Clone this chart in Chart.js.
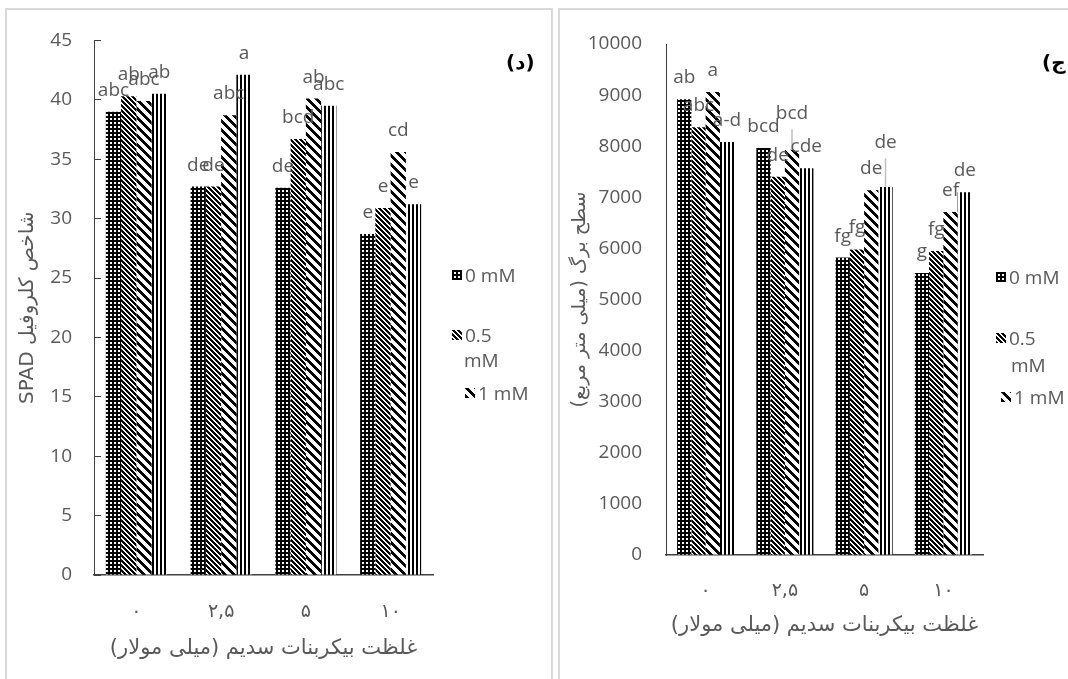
<!DOCTYPE html>
<html>
<head>
<meta charset="utf-8">
<script src="https://cdn.jsdelivr.net/npm/chart.js@4.4.0/dist/chart.umd.min.js"></script>
<style>
  body { margin: 0; width: 1068px; height: 679px; overflow: hidden; background: #fff; position: relative; }
  .panel { position: absolute; border: 2px solid #d9d9d9; box-sizing: border-box; }
  #boxL { left: 5px; top: 8px; width: 548px; height: 700px; }
  #boxR { left: 558px; top: 8px; width: 530px; height: 700px; }
  canvas.chart { position: absolute; top: 0; }
  .leg { position: absolute; font: 19px "Open Sans"; color: #595959; white-space: nowrap; line-height: 24px; }
  .leg canvas { display: inline-block; vertical-align: middle; margin-right: 3px; margin-top: -3px; }
  .tag { position: absolute; font: bold 20px "DejaVu Sans"; color: #000; white-space: nowrap; }
</style>
</head>
<body>
<div class="panel" id="boxL"></div>
<div class="panel" id="boxR"></div>
<canvas class="chart" id="spadChart" width="550" height="679" style="left:0"></canvas>
<canvas class="chart" id="areaChart" width="508" height="679" style="left:560px"></canvas>

<div class="tag" style="left:506px;top:50px">(د)</div>
<div class="tag" style="left:1042px;top:50px">(ج</div>

<div class="leg" style="left:452px;top:263px"><canvas class="sw" data-k="0" width="10" height="10"></canvas>0 mM</div>
<div class="leg" style="left:452px;top:323px"><canvas class="sw" data-k="1" width="10" height="10"></canvas>0.5</div>
<div class="leg" style="left:464px;top:348px">mM</div>
<div class="leg" style="left:465px;top:381px"><canvas class="sw" data-k="2" width="10" height="10"></canvas>1 mM</div>

<div class="leg" style="left:996px;top:265px"><canvas class="sw" data-k="0" width="10" height="10"></canvas>0 mM</div>
<div class="leg" style="left:996px;top:326px"><canvas class="sw" data-k="1" width="10" height="10"></canvas>0.5</div>
<div class="leg" style="left:1011px;top:353px">mM</div>
<div class="leg" style="left:1001px;top:385px"><canvas class="sw" data-k="2" width="10" height="10"></canvas>1 mM</div>

<script>
// categories: sodium bicarbonate concentration (mM)
const categories = ['۰', '۲,۵', '۵', '۱۰'];
const seriesNames = ['0 mM', '0.5 mM', '1 mM', '1.5 mM'];

// SPAD chlorophyll index
const spad0 = [39.0, 32.7, 32.6, 28.7];
const spad05 = [40.3, 32.7, 36.7, 30.9];
const spad1 = [39.9, 38.7, 40.1, 35.6];
const spad15 = [40.5, 42.1, 39.5, 31.2];
const spadLetters0 = ['abc', 'de', 'de', 'e'];
const spadLetters05 = ['ab', 'de', 'bcd', 'e'];
const spadLetters1 = ['abc', 'abc', 'ab', 'cd'];
const spadLetters15 = ['ab', 'a', 'abc', 'e'];

// leaf area (mm2)
const area0 = [8920, 7965, 5820, 5520];
const area05 = [8370, 7400, 5980, 5950];
const area1 = [9060, 7930, 7140, 6710];
const area15 = [8080, 7570, 7200, 7100];
const areaErr1 = [0, 400, 0, 0];
const areaErr15 = [0, 0, 560, 0];
const areaLetters0 = ['ab', 'bcd', 'fg', 'g'];
const areaLetters05 = ['abc', 'de', 'fg', 'fg'];
const areaLetters1 = ['a', 'bcd', 'de', 'ef'];
const areaLetters15 = ['a-d', 'cde', 'de', 'de'];

const grey = '#595959';

// black & white fill patterns like the excel ones
function makePattern(kind) {
  const size = { grid: 4, fine: 5, wide: 9, vert: 4 }[kind];
  const tile = document.createElement('canvas');
  tile.width = size;
  tile.height = size;
  const c = tile.getContext('2d');
  c.fillStyle = '#fff';
  c.fillRect(0, 0, size, size);
  c.fillStyle = '#000';
  for (let y = 0; y < size; y++) {
    for (let x = 0; x < size; x++) {
      let on;
      if (kind === 'grid') on = x < 2 || y < 2;
      else if (kind === 'vert') on = x < 2;
      else if (kind === 'fine') on = ((x - y + size) % size) < 3;
      else on = ((x - y + size) % size) < 4;
      if (on) c.fillRect(x, y, 1, 1);
    }
  }
  return c.createPattern(tile, 'repeat');
}
const patterns = [makePattern('grid'), makePattern('fine'), makePattern('wide'), makePattern('vert')];

// legend swatches
document.querySelectorAll('canvas.sw').forEach(cv => {
  const c = cv.getContext('2d');
  c.fillStyle = patterns[+cv.dataset.k];
  c.fillRect(0, 0, cv.width, cv.height);
});

// letters above the bars (+ the few error bars)
const letterPlugin = {
  id: 'letters',
  afterDatasetsDraw(chart) {
    const ctx = chart.ctx;
    const yScale = chart.scales.y;
    ctx.save();
    ctx.font = '19px "Open Sans"';
    ctx.fillStyle = grey;
    ctx.textAlign = 'center';
    ctx.textBaseline = 'alphabetic';
    chart.data.datasets.forEach((ds, i) => {
      chart.getDatasetMeta(i).data.forEach((bar, j) => {
        let top = bar.y;
        const err = ds.errors ? ds.errors[j] : 0;
        if (err) {
          const yErr = yScale.getPixelForValue(ds.data[j] + err);
          ctx.save();
          ctx.strokeStyle = '#bfbfbf';
          ctx.lineWidth = 1.5;
          ctx.beginPath();
          ctx.moveTo(bar.x, bar.y);
          ctx.lineTo(bar.x, yErr);
          ctx.stroke();
          ctx.restore();
          top = yErr + 6;
        }
        ctx.fillText(ds.letters[j], bar.x, top - 16);
      });
    });
    ctx.restore();
  }
};

function buildDatasets(values, letters, errors) {
  return values.map((v, i) => ({
    label: seriesNames[i],
    data: v,
    letters: letters[i],
    errors: errors ? errors[i] : null,
    backgroundColor: patterns[i],
    borderWidth: 0,
    categoryPercentage: 0.72,
    barPercentage: 1
  }));
}

function makeChart(id, cfg) {
  return new Chart(document.getElementById(id), {
    type: 'bar',
    data: { labels: categories, datasets: cfg.datasets },
    plugins: [letterPlugin],
    options: {
      responsive: false,
      animation: false,
      devicePixelRatio: 1,
      layout: { padding: cfg.padding },
      plugins: { legend: { display: false }, tooltip: { enabled: false } },
      scales: {
        x: {
          grid: { display: false },
          border: { color: '#404040', width: 1.5 },
          ticks: { color: grey, padding: cfg.xTickPad, font: { family: 'DejaVu Sans', size: 19 } },
          title: {
            display: true,
            text: 'غلظت بیکربنات سدیم (میلی مولار)\u200F',
            color: grey,
            font: { family: 'DejaVu Sans', size: 21 },
            padding: { top: 0, bottom: cfg.xTitlePad }
          },
          afterFit: s => { s.height = cfg.xHeight; }
        },
        y: {
          min: 0,
          max: cfg.max,
          ticks: {
            stepSize: cfg.step, color: grey, padding: cfg.yTickPad,
            font: { family: 'Open Sans', size: 19 },
            callback: v => String(v)
          },
          grid: { drawOnChartArea: false, drawTicks: cfg.innerTicks, tickLength: -7, color: '#404040' },
          border: { color: '#404040', width: 1 },
          title: {
            display: true,
            text: cfg.yTitle,
            color: grey,
            font: { family: 'DejaVu Sans', size: cfg.yTitleSize },
            padding: { top: cfg.yTitlePad, bottom: 0 }
          },
          afterFit: s => { s.width = cfg.yWidth; }
        }
      }
    }
  });
}

makeChart('spadChart', {
  datasets: buildDatasets([spad0, spad05, spad1, spad15],
    [spadLetters0, spadLetters05, spadLetters1, spadLetters15]),
  padding: { left: 0, top: 39, right: 117, bottom: 0 },
  max: 45, step: 5,
  yWidth: 94, xHeight: 104,
  yTickPad: 29, innerTicks: true,
  xTickPad: 18, xTitlePad: 18, yTitlePad: 16, yTitleSize: 20,
  yTitle: 'SPAD شاخص کلروفیل'
});

makeChart('areaChart', {
  datasets: buildDatasets([area0, area05, area1, area15],
    [areaLetters0, areaLetters05, areaLetters1, areaLetters15],
    [null, null, areaErr1, areaErr15]),
  padding: { left: 0, top: 44, right: 85, bottom: 0 },
  max: 10000, step: 1000,
  yWidth: 106, xHeight: 124,
  yTickPad: 24, innerTicks: false,
  xTickPad: 17, xTitlePad: 41, yTitlePad: 9, yTitleSize: 19,
  yTitle: 'سطح برگ (میلی متر مربع)\u200F'
});
</script>
</body>
</html>
